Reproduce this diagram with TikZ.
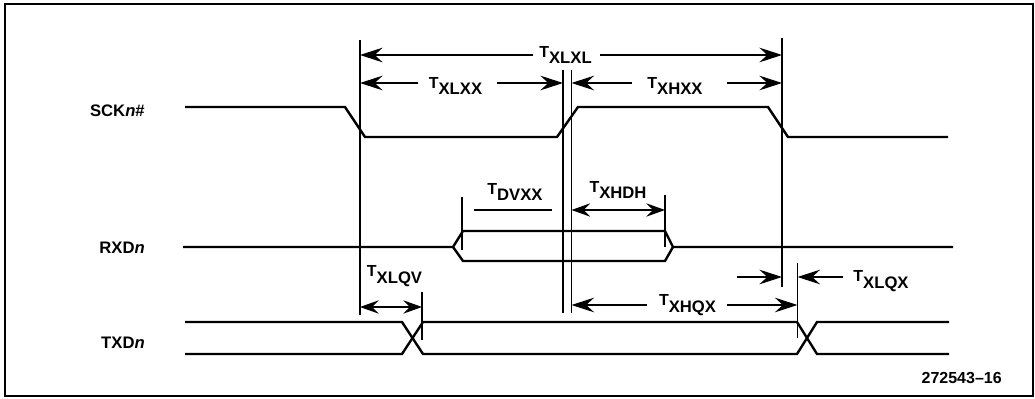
\documentclass[tikz,border=0pt]{standalone}
\usepackage{fontspec}
\setmainfont{Liberation Sans}
\usetikzlibrary{arrows.meta}
\newcommand{\tsub}[1]{{\fontsize{12}{13}\selectfont T}\raisebox{-4.8pt}{\fontsize{12.5}{14}\selectfont #1}}
\begin{document}
\begin{tikzpicture}[x=0.75pt,y=-0.75pt,
  sig/.style={line width=1.8pt},
  vline/.style={line width=0.9pt},
  arr/.style={line width=0.9pt,-{Stealth[length=17pt,width=11pt,inset=6pt]}},
  darr/.style={line width=0.9pt,{Stealth[length=14pt,width=10pt,inset=5pt]}-{Stealth[length=14pt,width=10pt,inset=5pt]}},
  tlab/.style={font=\bfseries,inner sep=0pt},
  slab/.style={font=\bfseries\fontsize{12.5}{14}\selectfont,anchor=east,inner sep=0pt}]
\useasboundingbox (0,0) rectangle (1035,399);
\draw[line width=1.3pt] (5,4) rectangle (1033,396);

% signal names
\node[slab] (sck) at (145,111) {SCK\textit{n}\#};
\node[slab] (rxd) at (145,248) {RXD\textit{n}};
\node[slab] (txd) at (145,343) {TXD\textit{n}};

% waveforms
\draw[sig] (185,107) -- (345,107) -- (365,137) -- (557,137) -- (578,107) -- (768,107) -- (788,137) -- (948,137);
\draw[sig] (183,247) -- (453,247) -- (463,231) -- (665,231) -- (673,247) -- (953,247);
\draw[sig] (453,247) -- (463,261) -- (665,261) -- (673,247);
\draw[sig] (185,322) -- (402,322) -- (423,354) -- (797,354) -- (817,322) -- (949,322);
\draw[sig] (185,354) -- (402,354) -- (423,322) -- (797,322) -- (817,354) -- (949,354);

% reference verticals
\coordinate (v1t) at (360,40);  \coordinate (v1b) at (360,315);
\coordinate (v2t) at (563,70);  \coordinate (v2b) at (563,313);
\coordinate (v3t) at (571.5,70);\coordinate (v3b) at (571.5,313);
\coordinate (v4t) at (782,38);  \coordinate (v4b) at (782,287);
\coordinate (v5t) at (797.5,263);\coordinate (v5b) at (797.5,338);
\coordinate (v6t) at (422,292); \coordinate (v6b) at (422,340);
\coordinate (r1t) at (462,197); \coordinate (r1b) at (462,250);
\coordinate (r2t) at (665,195); \coordinate (r2b) at (665,247);
\foreach \v in {v1,v2,v3,v4,v5,v6,r1,r2} \draw[vline] (\v t) -- (\v b);

% T_XLXL
\node[tlab] (lxlxl) at (565.5,55) {\tsub{XLXL}};
\coordinate (xlxlA) at (533,55); \coordinate (xlxlB) at (600,55);
\draw[arr] (xlxlA) -- (v1t |- xlxlA);
\draw[arr] (xlxlB) -- (v4t |- xlxlB);

% T_XLXX
\node[tlab] (lxlxx) at (455.5,86) {\tsub{XLXX}};
\coordinate (xlxxA) at (418,83); \coordinate (xlxxB) at (497,83);
\draw[arr] (xlxxA) -- (v1t |- xlxxA);
\draw[arr] (xlxxB) -- (v2t |- xlxxB);

% T_XHXX
\node[tlab] (lxhxx) at (675,86) {\tsub{XHXX}};
\coordinate (xhxxA) at (632,83); \coordinate (xhxxB) at (727,83);
\draw[arr] (xhxxA) -- (v3t |- xhxxA);
\draw[arr] (xhxxB) -- (v4t |- xhxxB);

% T_DVXX
\node[tlab] (ldvxx) at (515,192) {\tsub{DVXX}};
\coordinate (dvA) at (474,210); \coordinate (dvB) at (552,210);
\draw[vline] (dvA) -- (dvB);

% T_XHDH
\node[tlab] (lxhdh) at (618,190) {\tsub{XHDH}};
\coordinate (xhdh) at (572,210);
\draw[darr] (v3t |- xhdh) -- (r2t |- xhdh);

% T_XLQV
\node[tlab] (lxlqv) at (394.5,276) {\tsub{XLQV}};
\coordinate (xlqv) at (360,307);
\draw[darr] (v1t |- xlqv) -- (v6t |- xlqv);

% T_XHQX
\node[tlab] (lxhqx) at (687.5,305) {\tsub{XHQX}};
\coordinate (xhqxA) at (647,305); \coordinate (xhqxB) at (727,305);
\draw[arr] (xhqxA) -- (v3t |- xhqxA);
\draw[arr] (xhqxB) -- (v5t |- xhqxB);

% T_XLQX
\node[tlab] (lxlqx) at (881,281) {\tsub{XLQX}};
\coordinate (xlqxA) at (737,277); \coordinate (xlqxB) at (843,277);
\draw[arr] (xlqxA) -- (v4t |- xlqxA);
\draw[arr] (xlqxB) -- (v5t |- xlqxB);

% figure number
\node[anchor=east,inner sep=0pt,font=\bfseries\fontsize{12}{14}\selectfont] (fignum) at (1002,378) {272543–16};
\end{tikzpicture}
\end{document}
